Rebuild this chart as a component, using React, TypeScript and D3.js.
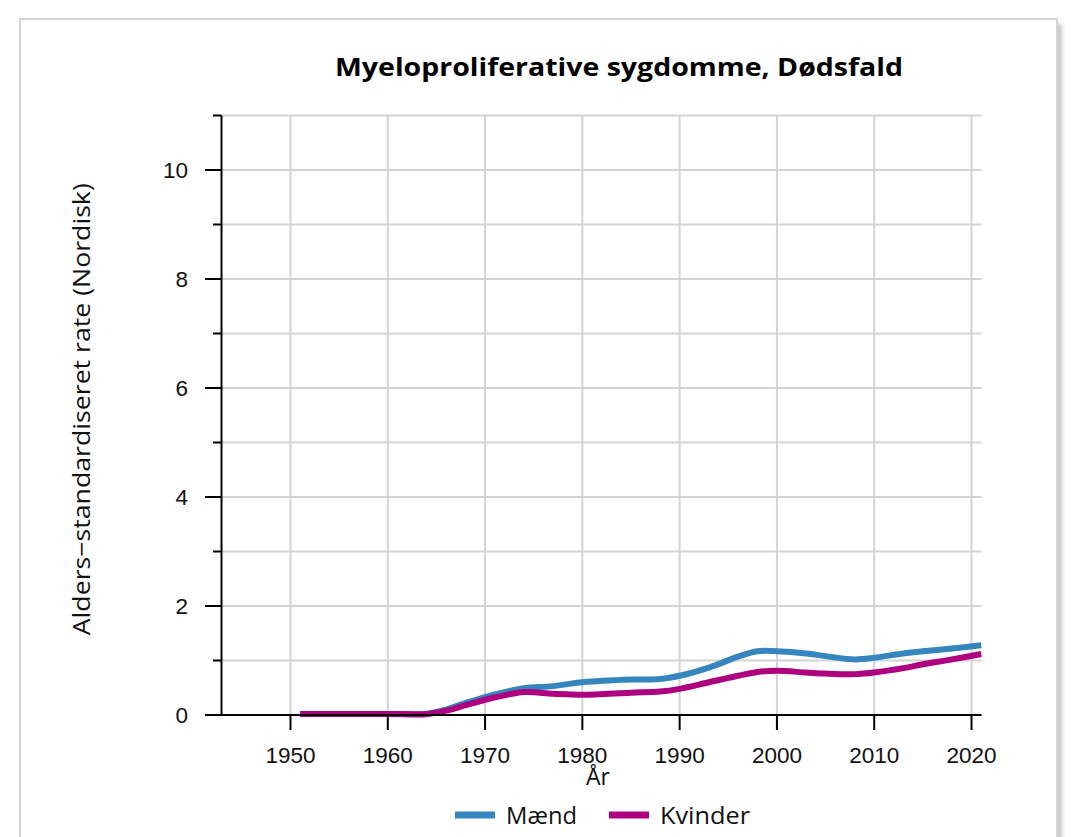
import React from "react";
import * as d3 from "d3";

const years = [1951, 1955, 1960, 1964, 1966, 1968, 1970, 1972, 1974, 1977, 1980, 1985, 1988, 1990, 1993, 1996, 1998, 2000, 2003, 2005, 2008, 2010, 2013, 2015, 2018, 2021];
const maend = [0.02, 0.02, 0.02, 0.02, 0.1, 0.22, 0.33, 0.42, 0.49, 0.53, 0.6, 0.65, 0.66, 0.72, 0.87, 1.07, 1.17, 1.17, 1.13, 1.08, 1.02, 1.05, 1.13, 1.17, 1.22, 1.28];
const kvinder = [0.02, 0.02, 0.02, 0.02, 0.08, 0.18, 0.28, 0.36, 0.42, 0.39, 0.37, 0.41, 0.43, 0.48, 0.6, 0.72, 0.79, 0.81, 0.78, 0.76, 0.75, 0.78, 0.86, 0.93, 1.02, 1.12];
const xTicks = [1950, 1960, 1970, 1980, 1990, 2000, 2010, 2020];
const yTicks = [0, 2, 4, 6, 8, 10];
const yMinor = [1, 3, 5, 7, 9, 11];
const seriesNames = ["Mænd", "Kvinder"];
const seriesColors = ["#3585bf", "#ad0180"];
const title = "Myeloproliferative sygdomme, Dødsfald";
const yTitle = "Alders−standardiseret rate (Nordisk)";
const xTitle = "År";

export default function App() {
  const W = 1074, H = 837;
  const x = d3.scaleLinear().domain([1950, 2020]).range([290.5, 971.5]);
  const y = d3.scaleLinear().domain([0, 11]).range([715, 115.5]);
  const x0 = 221.5, x1 = 981.5;
  const line = d3.line<[number, number]>().x(d => x(d[0])).y(d => y(d[1])).curve(d3.curveCatmullRom.alpha(0.5));
  const series = [maend, kvinder];
  const tickFont = "'Liberation Sans', Arial, sans-serif";
  const allGrid = [...yTicks, ...yMinor];
  return (
    <svg width={W} height={H} style={{ position: "absolute", left: 0, top: 0 }}>
      <defs>
        <filter id="sh" x="-5%" y="-5%" width="110%" height="110%">
          <feGaussianBlur stdDeviation="2" />
        </filter>
      </defs>
      <rect x={25} y={24} width={1037} height={900} fill="#c8c8c8" filter="url(#sh)" />
      <rect x={20} y={19} width={1037} height={900} fill="#fff" stroke="#d4d4d4" strokeWidth={2} />
      <text x={619} y={76} textAnchor="middle" fontFamily="'Open Sans', sans-serif" fontWeight="bold" fontSize={25} textLength={568} lengthAdjust="spacingAndGlyphs">{title}</text>
      {allGrid.map(v => (
        <line key={"hg" + v} x1={x0} x2={x1} y1={y(v)} y2={y(v)} stroke="#d3d3d3" strokeWidth={2} />
      ))}
      {xTicks.map(v => (
        <line key={"vg" + v} x1={x(v)} x2={x(v)} y1={y(11)} y2={y(0)} stroke="#d3d3d3" strokeWidth={2} />
      ))}
      {series.map((s, i) => (
        <path key={"s" + i} d={line(years.map((yr, j) => [yr, s[j]] as [number, number])) || ""} fill="none" stroke={seriesColors[i]} strokeWidth={6} strokeLinecap="butt" />
      ))}
      <line x1={x0} x2={x0} y1={y(11)} y2={y(0)} stroke="#000" strokeWidth={2} />
      <line x1={205} x2={x1} y1={y(0)} y2={y(0)} stroke="#000" strokeWidth={2} />
      {yTicks.map(v => (
        <g key={"yt" + v}>
          <line x1={205} x2={x0} y1={y(v)} y2={y(v)} stroke="#000" strokeWidth={2} />
          <text x={188} y={y(v)} dy="0.36em" textAnchor="end" fontFamily={tickFont} fontSize={22.5} fill="#111">{v}</text>
        </g>
      ))}
      {yMinor.map(v => (
        <line key={"ym" + v} x1={213} x2={x0} y1={y(v)} y2={y(v)} stroke="#000" strokeWidth={2} />
      ))}
      {xTicks.map(v => (
        <g key={"xt" + v}>
          <line x1={x(v)} x2={x(v)} y1={y(0)} y2={730} stroke="#000" strokeWidth={2} />
          <text x={x(v)} y={763} textAnchor="middle" fontFamily={tickFont} fontSize={22.5} fill="#111">{v}</text>
        </g>
      ))}
      <text x={598} y={785} textAnchor="middle" fontFamily="'Open Sans', sans-serif" fontSize={23} fill="#111">{xTitle}</text>
      <text transform={`translate(90,${(y(0) + y(11)) / 2 - 6}) rotate(-90)`} textAnchor="middle" fontFamily="'Open Sans', sans-serif" fontSize={24} fill="#111" textLength={452} lengthAdjust="spacingAndGlyphs">{yTitle}</text>
      {seriesNames.map((n, i) => {
        const lx = i === 0 ? 455 : 609;
        return (
          <g key={"lg" + i}>
            <line x1={lx} x2={lx + 40} y1={815} y2={815} stroke={seriesColors[i]} strokeWidth={7} />
            <text x={lx + 51} y={824} fontFamily="'Open Sans', sans-serif" fontSize={24} fill="#111" textLength={i === 0 ? 71 : 90} lengthAdjust="spacingAndGlyphs">{n}</text>
          </g>
        );
      })}
    </svg>
  );
}
